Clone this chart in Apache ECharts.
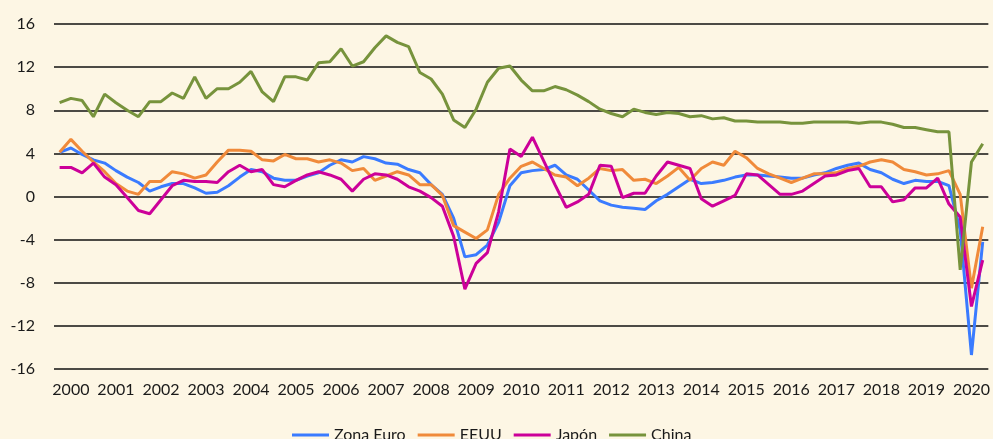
<!DOCTYPE html>
<html>
<head>
<meta charset="utf-8">
<style>
  html, body { margin: 0; padding: 0; background: #fdf6e4; }
  #chart { width: 993px; height: 439px; }
</style>
<script src="https://cdn.jsdelivr.net/npm/echarts@6/dist/echarts.min.js"></script>
</head>
<body>
<div id="chart"></div>
<script>
// quarterly year-on-year GDP growth, 2000 Q1 - 2020 Q3
const years = ['2000', '2001', '2002', '2003', '2004', '2005', '2006', '2007', '2008', '2009', '2010',
  '2011', '2012', '2013', '2014', '2015', '2016', '2017', '2018', '2019', '2020']
const quarters = []
years.forEach(y => ['T1', 'T2', 'T3', 'T4'].forEach(q => quarters.push(y + q)))
quarters.length = 83

const seriesNames = ['Zona Euro', 'EEUU', 'Japón', 'China']

const zonaEuro = [
  4.1, 4.5, 3.9, 3.4, 3.1, 2.4, 1.8, 1.3, 0.5, 0.9, 1.2, 1.2, 0.8, 0.3,
  0.4, 1.0, 1.8, 2.5, 2.3, 1.7, 1.5, 1.5, 1.9, 2.2, 2.9, 3.4, 3.2, 3.7,
  3.5, 3.1, 3.0, 2.5, 2.2, 1.1, 0.2, -2.0, -5.6, -5.4, -4.5, -2.4, 1.0, 2.2,
  2.4, 2.5, 2.9, 2.0, 1.6, 0.6, -0.4, -0.8, -1.0, -1.1, -1.2, -0.4, 0.2, 0.9,
  1.6, 1.2, 1.3, 1.5, 1.8, 2.0, 2.0, 1.9, 1.8, 1.7, 1.7, 2.0, 2.2, 2.6,
  2.9, 3.1, 2.5, 2.2, 1.6, 1.2, 1.5, 1.4, 1.4, 1.0, -3.1, -14.7, -4.2
]
const eeuu = [
  4.1, 5.3, 4.2, 3.2, 2.3, 1.2, 0.5, 0.2, 1.4, 1.4, 2.3, 2.1, 1.7, 2.0,
  3.2, 4.3, 4.3, 4.2, 3.4, 3.3, 3.9, 3.5, 3.5, 3.2, 3.4, 3.1, 2.4, 2.6,
  1.5, 1.9, 2.3, 2.0, 1.1, 1.1, 0.1, -2.7, -3.3, -3.9, -3.1, 0.2, 1.7, 2.8,
  3.2, 2.6, 2.0, 1.8, 1.0, 1.7, 2.6, 2.4, 2.5, 1.5, 1.6, 1.2, 1.9, 2.7,
  1.5, 2.6, 3.2, 2.9, 4.2, 3.6, 2.6, 2.1, 1.7, 1.3, 1.7, 2.1, 2.1, 2.2,
  2.6, 2.8, 3.2, 3.4, 3.2, 2.5, 2.3, 2.0, 2.1, 2.4, 0.2, -8.5, -2.8
]
const japon = [
  2.7, 2.7, 2.2, 3.1, 1.8, 1.1, -0.1, -1.3, -1.6, -0.3, 1.0, 1.5, 1.4, 1.4,
  1.3, 2.3, 2.9, 2.3, 2.5, 1.1, 0.9, 1.5, 2.0, 2.3, 2.0, 1.6, 0.5, 1.6,
  2.1, 2.0, 1.6, 0.9, 0.5, -0.1, -0.9, -3.7, -8.6, -6.2, -5.2, -1.4, 4.4, 3.7,
  5.5, 3.3, 1.1, -1.0, -0.5, 0.2, 2.9, 2.8, -0.1, 0.3, 0.3, 1.9, 3.2, 2.9,
  2.6, -0.2, -0.9, -0.4, 0.1, 2.1, 2.0, 1.1, 0.2, 0.2, 0.5, 1.2, 1.9, 2.0,
  2.4, 2.6, 0.9, 0.9, -0.5, -0.3, 0.8, 0.8, 1.7, -0.7, -1.9, -10.2, -5.9
]
const china = [
  8.7, 9.1, 8.9, 7.4, 9.5, 8.7, 8.0, 7.4, 8.8, 8.8, 9.6, 9.1, 11.1, 9.1,
  10.0, 10.0, 10.6, 11.6, 9.7, 8.8, 11.1, 11.1, 10.8, 12.4, 12.5, 13.7, 12.1, 12.5,
  13.8, 14.9, 14.3, 13.9, 11.5, 10.9, 9.5, 7.1, 6.4, 8.1, 10.6, 11.9, 12.1, 10.8,
  9.8, 9.8, 10.2, 9.9, 9.4, 8.8, 8.1, 7.7, 7.4, 8.1, 7.8, 7.6, 7.8, 7.7,
  7.4, 7.5, 7.2, 7.3, 7.0, 7.0, 6.9, 6.9, 6.9, 6.8, 6.8, 6.9, 6.9, 6.9,
  6.9, 6.8, 6.9, 6.9, 6.7, 6.4, 6.4, 6.2, 6.0, 6.0, -6.8, 3.2, 4.9
]
const colors = ['#3a7bff', '#f08a3a', '#cc0099', '#77933c']

const chart = echarts.init(document.getElementById('chart'))

const font = 'Lato, "Open Sans", sans-serif'

chart.setOption({
  backgroundColor: '#fdf6e4',
  animation: false,
  color: colors,
  grid: { left: 54, right: 2, top: 24, bottom: 70 },
  legend: {
    data: seriesNames,
    left: 287,
    top: 422,
    icon: 'rect',
    itemWidth: 37,
    itemHeight: 3,
    itemGap: 12,
    textStyle: { fontFamily: font, fontSize: 16, color: '#1a1a1a', lineHeight: 16 }
  },
  xAxis: {
    type: 'category',
    data: quarters,
    boundaryGap: true,
    axisLine: { show: false },
    axisTick: { show: false },
    splitLine: { show: false },
    axisLabel: {
      interval: idx => idx % 4 === 1,
      formatter: v => v.slice(0, 4),
      margin: 13,
      fontFamily: font,
      fontSize: 16,
      color: '#1a1a1a'
    }
  },
  yAxis: {
    type: 'value',
    min: -16,
    max: 16,
    interval: 4,
    axisLine: { show: false },
    axisTick: { show: false },
    splitLine: { lineStyle: { color: '#111', width: 1.5 } },
    axisLabel: {
      margin: 19,
      fontFamily: font,
      fontSize: 16,
      color: '#1a1a1a'
    }
  },
  series: [zonaEuro, eeuu, japon, china].map((d, i) => ({
    name: seriesNames[i],
    type: 'line',
    data: d,
    symbol: 'none',
    lineStyle: { width: 3, color: colors[i] }
  }))
})
</script>
</body>
</html>
